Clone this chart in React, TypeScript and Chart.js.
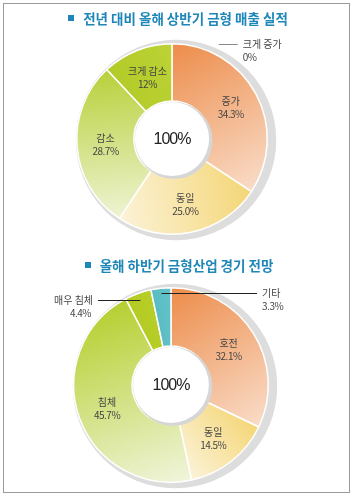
import { useEffect, useRef } from "react";
import { Chart, registerables } from "chart.js";

Chart.register(...registerables);

// ---- data ----
const salesTitle = "전년 대비 올해 상반기 금형 매출 실적";
const salesLabels = ["크게 증가", "증가", "동일", "감소", "크게 감소"];
const salesValues = [0, 34.3, 25.0, 28.7, 12];
const salesValueText = ["0%", "34.3%", "25.0%", "28.7%", "12%"];

const outlookTitle = "올해 하반기 금형산업 경기 전망";
const outlookLabels = ["호전", "동일", "침체", "매우 침체", "기타"];
const outlookValues = [32.1, 14.5, 45.7, 4.4, 3.3];
const outlookValueText = ["32.1%", "14.5%", "45.7%", "4.4%", "3.3%"];

const centerText = "100%";

// ---- styles ----
const salesStart = ["#ED8C4A", "#ED8C4A", "#F4D676", "#EEF4D4", "#B3CB28"];
const salesEnd = ["#ED8C4A", "#F9DCC8", "#FCF3D8", "#B8D03A", "#BCD236"];
const outlookStart = ["#ED8C4A", "#F4D676", "#F0F5DC", "#B3CB22", "#58BCC3"];
const outlookEnd = ["#F9DCC8", "#FCF3D8", "#B6CF30", "#B8CE2A", "#64C2C8"];

type Callout = { index: number; side: 1 | -1; rf: number; endX: number; startX?: number; lineColor: string };
const salesCallouts: Callout[] = [{ index: 0, side: 1, rf: 1.0, endX: 0.69, startX: 0.49, lineColor: "#8a8a8a" }];
const outlookCallouts: Callout[] = [
  { index: 3, side: -1, rf: 0.93, endX: -0.75, lineColor: "#222" },
  { index: 4, side: 1, rf: 0.95, endX: 0.885, lineColor: "#222" },
];

const TITLE_COLOR = "#1F87B8";
const LABEL_FONT = '10px "Noto Sans CJK KR"';

function gradientFill(starts: string[], ends: string[]) {
  return (c: any) => {
    const chart = c.chart;
    const area = chart.chartArea;
    const i = c.dataIndex;
    if (!area || c.type !== "data") return starts[i];
    const values = c.dataset.data as number[];
    const total = values.reduce((a, b) => a + b, 0);
    let before = 0;
    for (let j = 0; j < i; j++) before += values[j];
    const a0 = (before / total) * Math.PI * 2;
    const a1 = ((before + values[i]) / total) * Math.PI * 2;
    const cx = (area.left + area.right) / 2;
    const cy = (area.top + area.bottom) / 2;
    const r = Math.min(area.width, area.height) / 2;
    const x0 = cx + r * Math.sin(a0), y0 = cy - r * Math.cos(a0);
    const x1 = cx + r * Math.sin(a1), y1 = cy - r * Math.cos(a1);
    if (Math.hypot(x1 - x0, y1 - y0) < 1) return starts[i];
    const g = chart.ctx.createLinearGradient(x0, y0, x1, y1);
    g.addColorStop(0, starts[i]);
    g.addColorStop(1, ends[i]);
    return g;
  };
}

function makeDecor(labels: string[], valueText: string[], callouts: Callout[]) {
  return {
    id: "decor",
    beforeDatasetsDraw(chart: any) {
      const arc = chart.getDatasetMeta(0).data[0];
      if (!arc) return;
      const { x, y, outerRadius } = arc;
      const ctx = chart.ctx;
      ctx.save();
      ctx.fillStyle = "#DDDDDD";
      ctx.beginPath();
      ctx.arc(x + 4, y + 1, outerRadius + 5, 0, Math.PI * 2);
      ctx.fill();
      ctx.restore();
    },
    afterDatasetsDraw(chart: any) {
      const meta = chart.getDatasetMeta(0);
      const arcs = meta.data;
      if (!arcs.length) return;
      const { x: cx, y: cy, innerRadius, outerRadius: R } = arcs[0];
      const ctx = chart.ctx;
      ctx.save();
      // hole with shadow
      ctx.fillStyle = "#D6D6D6";
      ctx.beginPath();
      ctx.arc(cx + 2, cy + 1.5, innerRadius + 0.5, 0, Math.PI * 2);
      ctx.fill();
      ctx.fillStyle = "#FFFFFF";
      ctx.beginPath();
      ctx.arc(cx, cy, innerRadius - 1, 0, Math.PI * 2);
      ctx.fill();
      // center text
      ctx.fillStyle = "#222";
      ctx.font = '16px "Liberation Sans"';
      (ctx as any).letterSpacing = "-1px";
      ctx.textAlign = "center";
      ctx.textBaseline = "middle";
      ctx.fillText(centerText, cx, cy + 1);
      // inside labels
      ctx.font = LABEL_FONT;
      ctx.fillStyle = "#444";
      const outside = new Set(callouts.map((c) => c.index));
      arcs.forEach((el: any, i: number) => {
        if (outside.has(i)) return;
        const p = el.getCenterPoint();
        ctx.textAlign = "center";
        (ctx as any).letterSpacing = "0px";
        ctx.fillText(labels[i], p.x, p.y - 6);
        (ctx as any).letterSpacing = "-0.5px";
        ctx.fillText(valueText[i], p.x, p.y + 7);
      });
      // callouts
      callouts.forEach((c) => {
        const el = arcs[c.index];
        const mid = (el.startAngle + el.endAngle) / 2;
        let ax = cx + Math.cos(mid) * R * c.rf;
        const ay = cy + Math.sin(mid) * R * c.rf;
        if (c.startX !== undefined) ax = cx + c.startX * R;
        const ex = cx + c.endX * R;
        ctx.strokeStyle = c.lineColor;
        ctx.lineWidth = 1;
        ctx.beginPath();
        ctx.moveTo(ax, Math.round(ay) + 0.5);
        ctx.lineTo(ex, Math.round(ay) + 0.5);
        ctx.stroke();
        ctx.fillStyle = "#444";
        ctx.textAlign = c.side > 0 ? "left" : "right";
        const tx = ex + c.side * 5;
        (ctx as any).letterSpacing = "0px";
        ctx.fillText(labels[c.index], tx, ay);
        (ctx as any).letterSpacing = "-0.5px";
        ctx.fillText(valueText[c.index], tx - (c.side < 0 ? 2 : 0), ay + 13);
      });
      ctx.restore();
    },
  };
}

function Donut(props: {
  top: number;
  height: number;
  labels: string[];
  values: number[];
  valueText: string[];
  starts: string[];
  ends: string[];
  callouts: Callout[];
  pad: { left: number; right: number; top: number; bottom: number };
}) {
  const ref = useRef<HTMLCanvasElement | null>(null);
  useEffect(() => {
    if (!ref.current) return;
    const chart = new Chart(ref.current, {
      type: "doughnut",
      data: {
        labels: props.labels,
        datasets: [
          {
            data: props.values,
            backgroundColor: gradientFill(props.starts, props.ends) as any,
            borderColor: "#FFFFFF",
            borderWidth: 1.5,
          },
        ],
      },
      options: {
        responsive: false,
        animation: false,
        devicePixelRatio: 1,
        cutout: "40%",
        layout: { padding: props.pad },
        plugins: { legend: { display: false }, tooltip: { enabled: false } },
      },
      plugins: [makeDecor(props.labels, props.valueText, props.callouts)],
    });
    return () => chart.destroy();
  }, []);
  return (
    <canvas
      ref={ref}
      width={353}
      height={props.height}
      style={{ position: "absolute", left: 0, top: props.top, width: 353, height: props.height }}
    />
  );
}

function Title(props: { text: string; top: number; center: number }) {
  return (
    <div
      style={{
        position: "absolute",
        left: props.center - 176,
        width: 352,
        top: props.top,
        textAlign: "center",
        font: 'bold 13.5px "Noto Sans CJK KR"',
        color: TITLE_COLOR,
        lineHeight: "18px",
        whiteSpace: "nowrap",
      }}
    >
      <span
        style={{
          display: "inline-block",
          width: 6,
          height: 6,
          background: TITLE_COLOR,
          marginRight: 9,
          verticalAlign: "middle",
          position: "relative",
          top: -2,
        }}
      />
      {props.text}
    </div>
  );
}

export default function App() {
  const pad1 = { left: 76, right: 85, top: 43, bottom: 15 };
  const pad2 = { left: 73, right: 84, top: 41, bottom: 14 };
  return (
    <div style={{ position: "fixed", left: 0, top: 0, width: 353, height: 497, background: "#fff", overflow: "hidden" }}>
      <div
        style={{
          position: "absolute",
          left: 3,
          top: 3,
          width: 347,
          height: 490,
          boxSizing: "border-box",
          border: "1px solid #9A9A9A",
        }}
      />
      <Donut
        top={0}
        height={250}
        labels={salesLabels}
        values={salesValues}
        valueText={salesValueText}
        starts={salesStart}
        ends={salesEnd}
        callouts={salesCallouts}
        pad={pad1}
      />
      <Donut
        top={246}
        height={251}
        labels={outlookLabels}
        values={outlookValues}
        valueText={outlookValueText}
        starts={outlookStart}
        ends={outlookEnd}
        callouts={outlookCallouts}
        pad={pad2}
      />
      <Title text={salesTitle} top={9} center={178} />
      <Title text={outlookTitle} top={256} center={179} />
    </div>
  );
}
